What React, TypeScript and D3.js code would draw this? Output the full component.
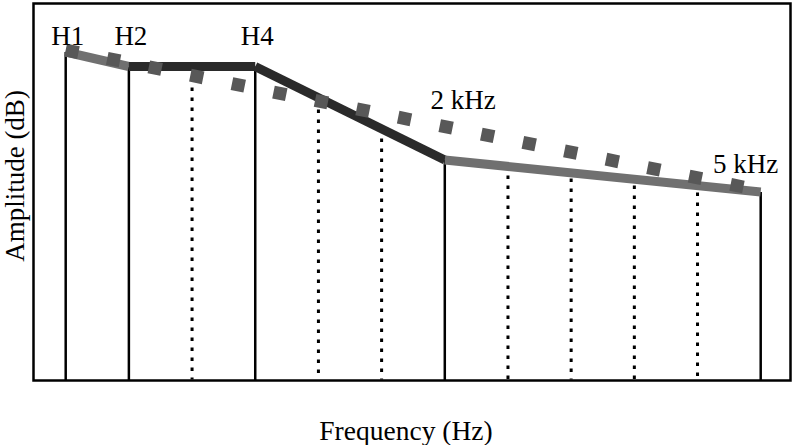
import React from "react";
import * as d3 from "d3";

// Harmonic numbers and envelope amplitudes (dB, relative)
const harmonics = [1, 2, 3, 4, 5, 6, 7, 8, 9, 10, 11, 12];
const solidHarmonics = [1, 2, 4, 7, 12];
const solidAmps = [-9.3, -12.2, -12.2, -30.9, -37.3];
// Tops of the dotted (unlabelled) harmonic lines
const dottedHarmonics = [3, 5, 6, 8, 9, 10, 11];
const dottedAmps = [-16.4, -20.8, -26.6, -34.0, -34.6, -36.0, -37.4];
// Envelope segments: [from harmonic, to harmonic, shade]
const segFrom = [1, 2, 4, 7];
const segTo = [2, 4, 7, 12];
const segShade = ["gray", "black", "black", "gray"];
// Dashed comparison spectrum (straight from H1 to H12)
const dashedHarmonics = [1, 12];
const dashedAmps = [-8.9, -37.0];
// Labels
const harmonicLabels = ["H1", "H2", "H4"];
const harmonicLabelN = [1, 2, 4];
const noteLabels = ["2 kHz", "5 kHz"];
const noteN = [7.29, 11.76];
const noteAmp = [-20.6, -33.4];

const W = 793;
const H = 445;

export default function App() {
  const x = d3.scaleLinear().domain([1, 12]).range([65.7, 760.7]);
  const y = d3.scaleLinear().domain([-75, 0]).range([380.5, 5.5]);
  const amp = (n: number) => solidAmps[solidHarmonics.indexOf(n)];

  const frameL = 33.5, frameR = 790.5, frameT = 3.5, frameB = 380.5;
  const font = "'Liberation Serif', 'Times New Roman', serif";
  const colors: Record<string, string> = { gray: "#707070", black: "#2a2a2a" };

  const line = d3.line<[number, number]>().x((d) => x(d[0])).y((d) => y(d[1]));

  return (
    <svg width={W} height={H} style={{ position: "absolute", left: 0, top: 0, background: "#fff" }}>
      <rect x={0} y={0} width={W} height={H} fill="#fff" />
      {/* frame */}
      <rect x={frameL} y={frameT} width={frameR - frameL} height={frameB - frameT}
        fill="none" stroke="#000" strokeWidth={2.5} />
      {/* solid harmonic lines */}
      {solidHarmonics.map((n, i) => (
        <line key={"s" + n} x1={x(n)} x2={x(n)} y1={y(solidAmps[i])} y2={frameB}
          stroke="#000" strokeWidth={2.5} />
      ))}
      {/* dotted harmonic lines */}
      {dottedHarmonics.map((n, i) => (
        <line key={"d" + n} x1={x(n)} x2={x(n)} y1={y(dottedAmps[i])} y2={frameB - 1}
          stroke="#000" strokeWidth={3} strokeDasharray="3.4 6.6" />
      ))}
      {/* envelope */}
      {segFrom.map((a, i) => (
        <path key={"e" + i}
          d={line([[a, amp(a)], [segTo[i], amp(segTo[i])]]) || ""}
          stroke={colors[segShade[i]]} strokeWidth={9} fill="none" strokeLinecap="butt" />
      ))}
      {/* dashed spectrum */}
      <path d={line(dashedHarmonics.map((n, i) => [n, dashedAmps[i]] as [number, number])) || ""}
        stroke="#585858" strokeWidth={13} fill="none" strokeDasharray="13 29.4" />
      {/* harmonic labels */}
      {harmonicLabels.map((t, i) => (
        <text key={t} x={x(harmonicLabelN[i]) + 2} y={45} textAnchor="middle"
          fontFamily={font} fontSize={27} fill="#000">{t}</text>
      ))}
      {noteLabels.map((t, i) => (
        <text key={t} x={x(noteN[i])} y={y(noteAmp[i])} textAnchor="middle"
          fontFamily={font} fontSize={27} fill="#000">{t}</text>
      ))}
      {/* axis titles */}
      <text x={406} y={440} textAnchor="middle" fontFamily={font} fontSize={27.5} fill="#000">
        Frequency (Hz)
      </text>
      <text transform={`translate(24,${176}) rotate(-90)`} textAnchor="middle"
        fontFamily={font} fontSize={27} fill="#000">
        Amplitude (dB)
      </text>
    </svg>
  );
}
